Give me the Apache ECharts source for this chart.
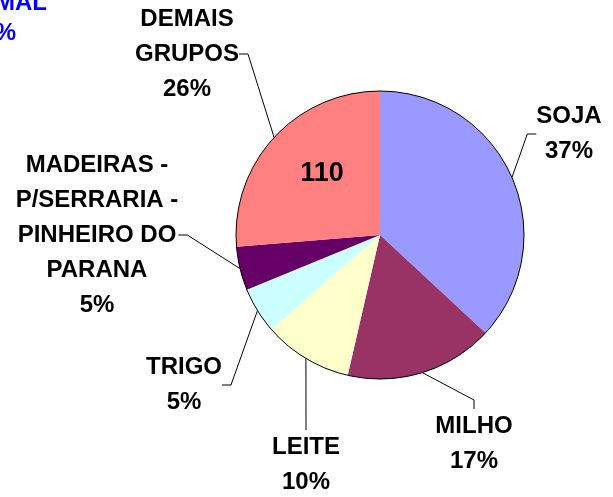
<!DOCTYPE html>
<html>
<head>
<meta charset="UTF-8">
<title>Grupos</title>
<script src="https://cdn.jsdelivr.net/npm/echarts@6/dist/echarts.min.js"></script>
<style>
  body { margin: 0; background: #fff; }
  #chart { width: 613px; height: 497px; }
</style>
</head>
<body>
<div id="chart"></div>
<script>
// slice names and shares (%), clockwise from 12 o'clock
var names = ['SOJA', 'MILHO', 'LEITE', 'TRIGO', 'MADEIRAS -\nP/SERRARIA -\nPINHEIRO DO\nPARANA', 'DEMAIS\nGRUPOS'];
var shares = [36.9, 16.7, 10.0, 5.2, 4.9, 26.3];
var colors = ['#9999FF', '#993366', '#FFFFCC', '#CCFFFF', '#660066', '#FF8080'];

// where each label block sits (centre of the text block)
var labelPos = [[569, 134], [474, 444], [306, 465], [184, 385], [97, 235], [187, 54]];

var font = "'Liberation Sans', Arial, sans-serif";

var chart = echarts.init(document.getElementById('chart'));

var pieData = [];
for (var i = 0; i < names.length; i++) {
    pieData.push({ name: names[i], value: shares[i], itemStyle: { color: colors[i] } });
}

var option = {
    animation: false,
    series: [
        {
            type: 'pie',
            center: [380, 235],
            radius: 144,
            startAngle: 90,
            clockwise: true,
            avoidLabelOverlap: false,
            data: pieData,
            itemStyle: { borderWidth: 0 },
            label: {
                show: true,
                position: 'outside',
                alignTo: 'none',
                color: '#000',
                fontFamily: font,
                fontWeight: 'bold',
                fontSize: 24,
                lineHeight: 35,
                align: 'center',
                formatter: function (p) {
                    return p.name + '\n' + Math.round(p.value) + '%';
                }
            },
            labelLine: {
                show: true,
                length: 10,
                length2: 9,
                lineStyle: { color: '#000', width: 1 }
            },
            labelLayout: function (p) {
                var pos = labelPos[p.dataIndex];
                return { x: pos[0], y: pos[1], align: 'center', verticalAlign: 'middle' };
            },
            emphasis: { disabled: true }
        },
        {
            // outline of the pie
            type: 'pie',
            center: [380, 235],
            radius: 144,
            silent: true,
            label: { show: false },
            labelLine: { show: false },
            data: [{ value: 1, itemStyle: { color: 'rgba(0,0,0,0)', borderColor: '#000', borderWidth: 1 } }]
        }
    ],
    graphic: [
        {
            type: 'text',
            z: 100,
            x: 322, y: 174,
            style: { text: '110', font: 'bold 27px ' + font, fill: '#000', align: 'center', verticalAlign: 'middle' }
        },
        {
            type: 'text',
            z: 100,
            x: 47, y: 3,
            style: { text: 'ANIMAL', font: 'bold 24px ' + font, fill: '#0000FF', align: 'right', verticalAlign: 'middle' }
        },
        {
            type: 'text',
            z: 100,
            x: 16, y: 33,
            style: { text: '4%', font: 'bold 24px ' + font, fill: '#0000FF', align: 'right', verticalAlign: 'middle' }
        }
    ]
};

chart.setOption(option);
</script>
</body>
</html>
